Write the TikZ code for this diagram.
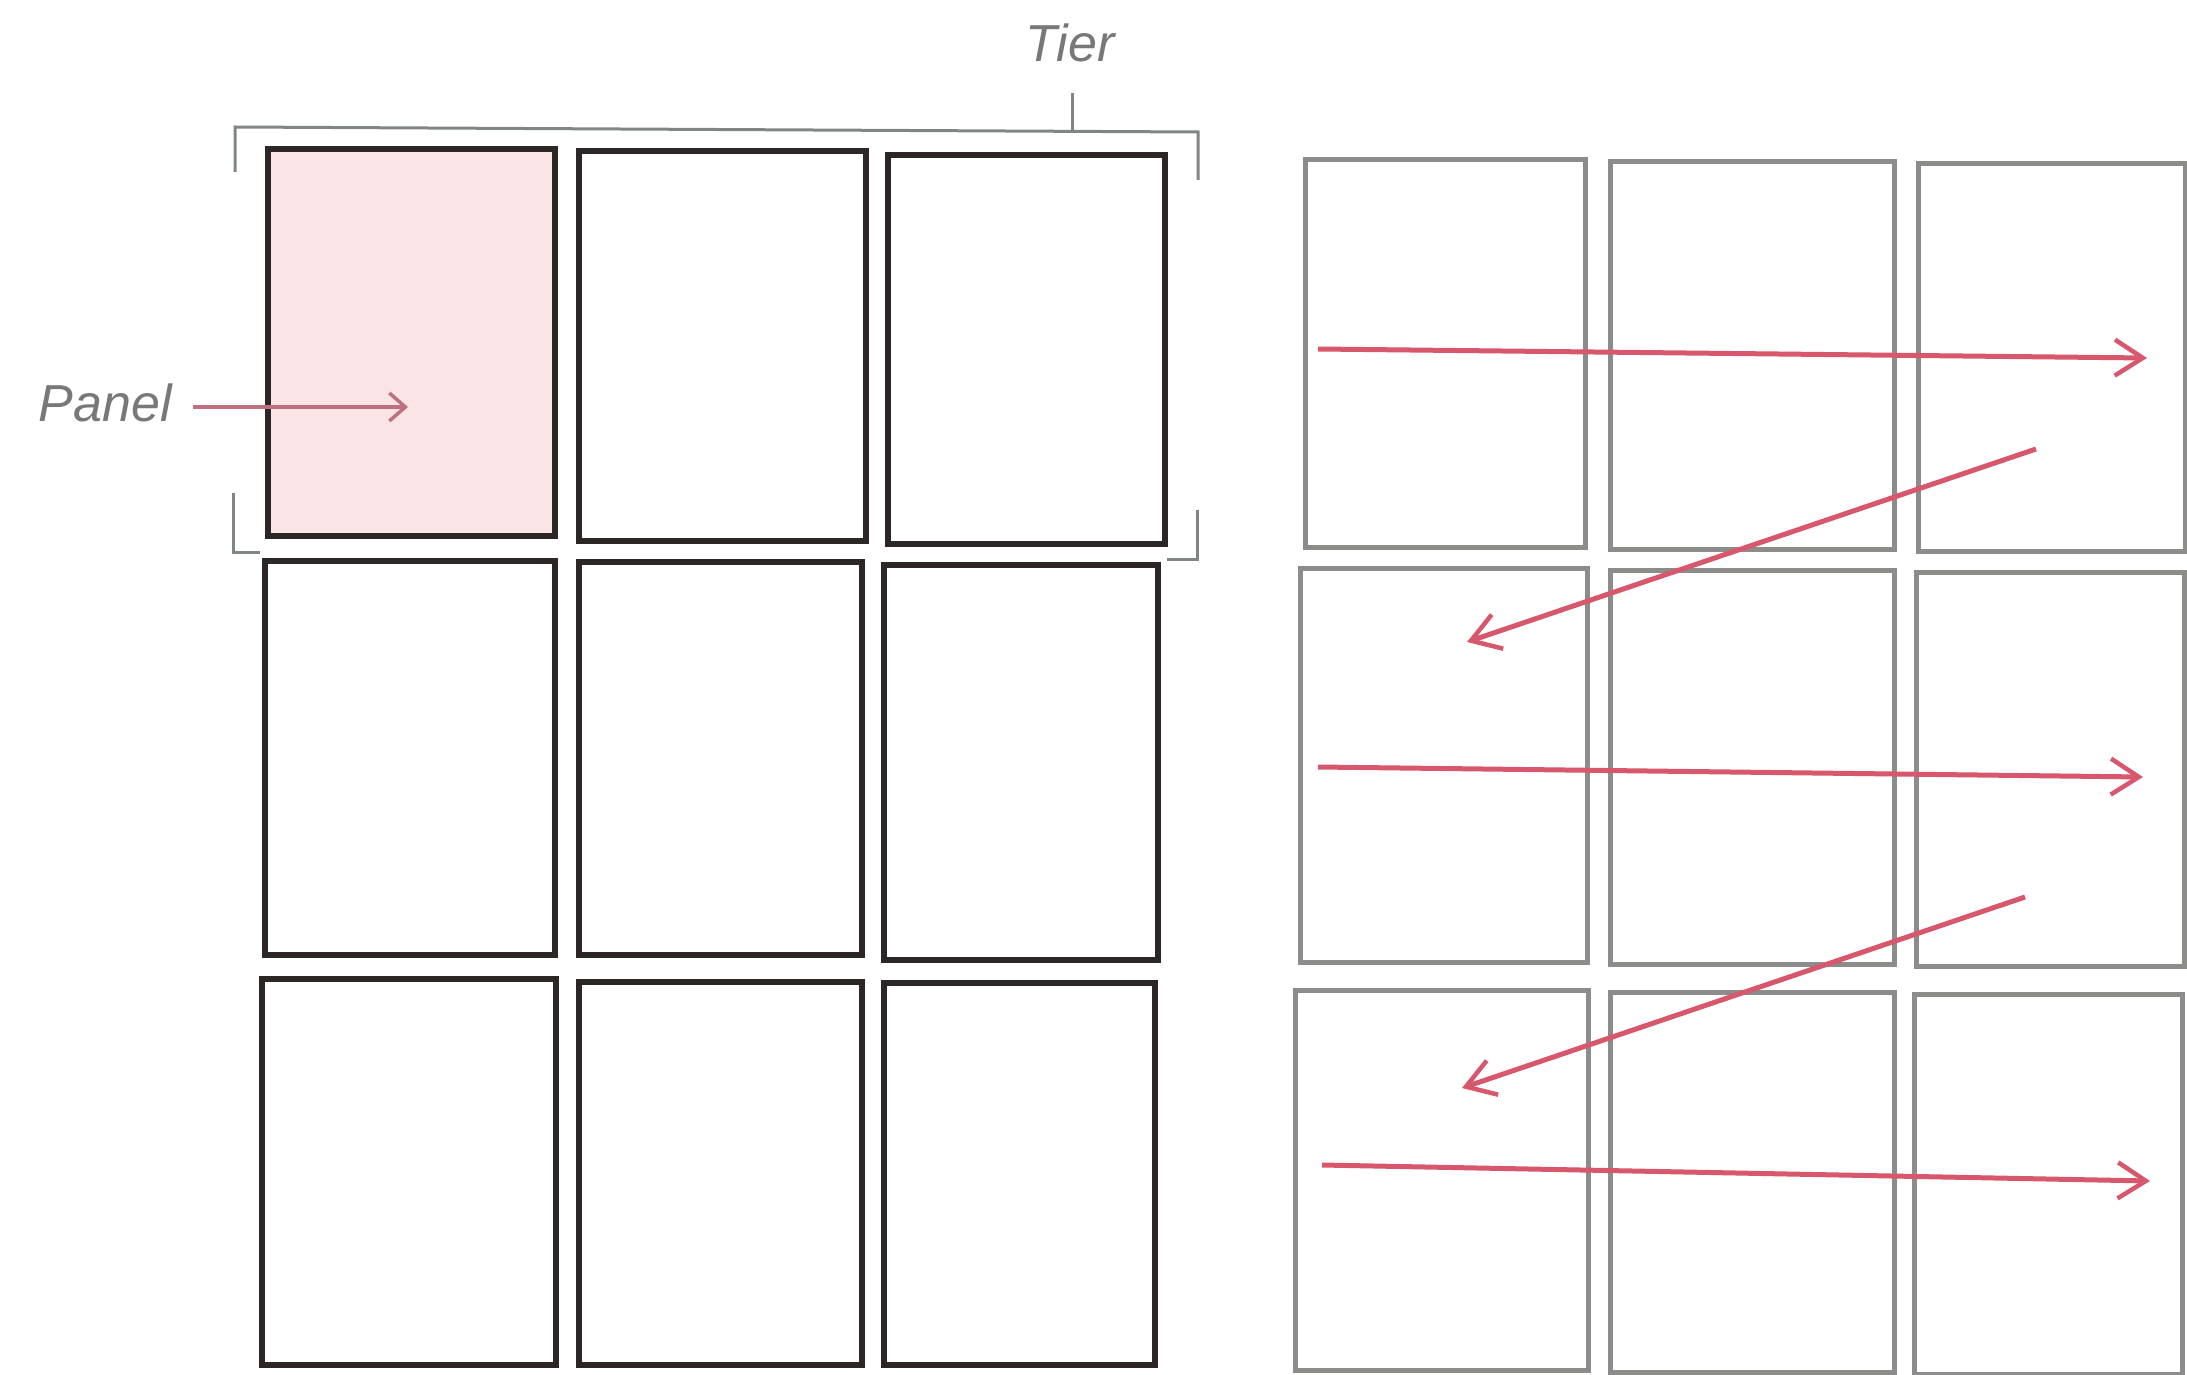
\documentclass[tikz,border=0pt]{standalone}
\usepackage{fontspec}
\setmainfont{Liberation Sans}
\usetikzlibrary{arrows.meta}
\definecolor{panelink}{RGB}{45,38,38}
\definecolor{gridgray}{RGB}{140,140,138}
\definecolor{brackgray}{RGB}{128,134,132}
\definecolor{pinkfill}{RGB}{250,228,229}
\definecolor{readred}{RGB}{215,88,108}
\definecolor{labelarrow}{RGB}{190,112,128}
\definecolor{labelgray}{RGB}{120,120,120}
\tikzset{
  darkpanel/.style={draw=panelink, line width=6pt},
  lightpanel/.style={draw=gridgray, line width=5pt},
  brack/.style={draw=brackgray, line width=3pt},
  readarrow/.style={draw=readred, line width=5pt, -{Straight Barb[length=28pt,width=36pt,line width=4.5pt]}},
  lblarrow/.style={draw=labelarrow, line width=3.5pt, -{Straight Barb[length=16pt,width=28pt,line width=3.5pt]}},
  lbl/.style={font=\fontsize{52}{58}\selectfont\itshape, text=labelgray, inner sep=0pt}
}
\begin{document}
\begin{tikzpicture}[x=1pt,y=-1pt]
\useasboundingbox (0,0) rectangle (2187,1375);
\clip (0,0) rectangle (2187,1375);
% left grid
\fill[pinkfill] (268,149) rectangle (555,536);
\draw[darkpanel] (268,149) rectangle (555,536);
\draw[darkpanel] (579,151) rectangle (866,541);
\draw[darkpanel] (888,155) rectangle (1165,544);
\draw[darkpanel] (265,561) rectangle (555,955);
\draw[darkpanel] (579,562) rectangle (862,955);
\draw[darkpanel] (884,565) rectangle (1158,960);
\draw[darkpanel] (262,979) rectangle (556,1365);
\draw[darkpanel] (579,982) rectangle (862,1365);
\draw[darkpanel] (884,983) rectangle (1155,1365);
% tier bracket
\draw[brack] (235,172) -- (235,127) -- (1198,132) -- (1198,180);
\coordinate (tiertick) at (1072,130);
\node[lbl, anchor=south] (tier) at (1070,62) {Tier};
\draw[brack] (tiertick) -- (1072,93);
\draw[brack] (260,552) -- (233,552) -- (233,493);
\draw[brack] (1167,559) -- (1197,559) -- (1197,510);
% panel label
\node[lbl, anchor=east] (panel) at (172,403) {Panel};
\coordinate (pa) at (193,407);
\coordinate (pb) at (408,407);
\draw[lblarrow] (pa) -- (pb);
% right grid
\draw[lightpanel] (1305,160) rectangle (1585,547);
\draw[lightpanel] (1610,162) rectangle (1894,549);
\draw[lightpanel] (1918,164) rectangle (2185,551);
\draw[lightpanel] (1300,568) rectangle (1587,962);
\draw[lightpanel] (1610,570) rectangle (1894,964);
\draw[lightpanel] (1916,572) rectangle (2184,966);
\draw[lightpanel] (1295,990) rectangle (1588,1370);
\draw[lightpanel] (1610,992) rectangle (1894,1372);
\draw[lightpanel] (1914,994) rectangle (2182,1374);
% reading arrows
\coordinate (a1s) at (1318,349); \coordinate (a1e) at (2147,358);
\coordinate (a2s) at (2036,449); \coordinate (a2e) at (1467,642);
\coordinate (a3s) at (1318,767); \coordinate (a3e) at (2143,777);
\coordinate (a4s) at (2025,897); \coordinate (a4e) at (1462,1088);
\coordinate (a5s) at (1322,1165); \coordinate (a5e) at (2150,1181);
\draw[readarrow] (a1s) -- (a1e);
\draw[readarrow] (a2s) -- (a2e);
\draw[readarrow] (a3s) -- (a3e);
\draw[readarrow] (a4s) -- (a4e);
\draw[readarrow] (a5s) -- (a5e);
\end{tikzpicture}
\end{document}
